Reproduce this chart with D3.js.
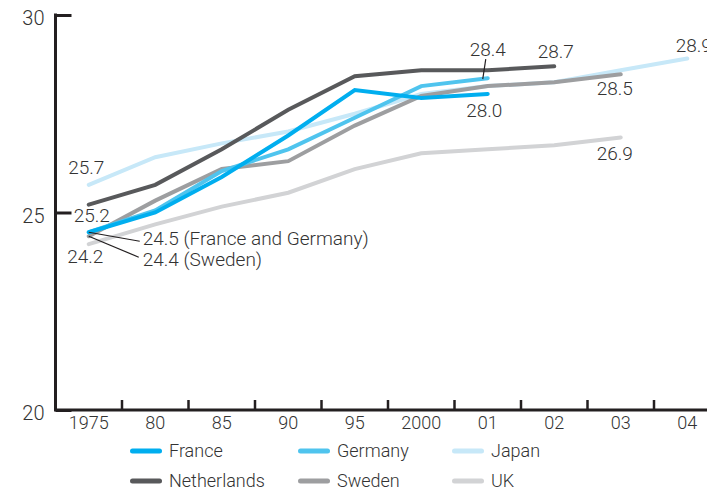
<!DOCTYPE html>
<html>
<head>
<meta charset="utf-8">
<script src="https://cdn.jsdelivr.net/npm/d3@7"></script>
<style>
  html, body { margin: 0; padding: 0; background: #fff; }
  svg { display: block; }
  text { font-family: Roboto, "Liberation Sans", sans-serif; font-weight: 300; fill: #333; }
</style>
</head>
<body>
<svg id="chart" width="707" height="488"></svg>
<script>
// ---- data ----
const years = ["1975", "80", "85", "90", "95", "2000", "01", "02", "03", "04"];
const yTicks = [20, 25, 30];
const seriesNames = ["France", "Germany", "Japan", "Netherlands", "Sweden", "UK"];
const france      = [24.5, 25.0, 25.9, 26.95, 28.1, 27.9, 28.0, null, null, null];
const germany     = [24.5, 25.05, 26.05, 26.6, 27.4, 28.2, 28.4, null, null, null];
const japan       = [25.7, 26.4, 26.75, 27.05, 27.5, 28.0, 28.2, 28.3, 28.6, 28.9];
const netherlands = [25.2, 25.7, 26.6, 27.6, 28.45, 28.6, 28.6, 28.7, null, null];
const sweden      = [24.4, 25.3, 26.1, 26.3, 27.2, 27.95, 28.2, 28.3, 28.5, null];
const uk          = [24.2, 24.7, 25.15, 25.5, 26.1, 26.5, 26.6, 26.7, 26.9, null];
const colors = {
  France: "#00aeef", Germany: "#4fc4ee", Japan: "#c7e8f8",
  Netherlands: "#58595b", Sweden: "#9d9ea0", UK: "#d2d3d5"
};
const values = { France: france, Germany: germany, Japan: japan,
  Netherlands: netherlands, Sweden: sweden, UK: uk };
// annotations: series, year index, text, offsets
const annotations = [
  { s: "Japan", i: 0, t: "25.7", dx: -2.5, dy: -11, anchor: "middle" },
  { s: "Netherlands", i: 0, t: "25.2", dx: 3, dy: 17.5, anchor: "middle" },
  { s: "UK", i: 0, t: "24.2", dx: -3.5, dy: 19, anchor: "middle" },
  { s: "France", i: 0, t: "24.5 (France and Germany)", dx: 54, dy: 13, anchor: "start", leader: [51, 9] },
  { s: "Sweden", i: 0, t: "24.4 (Sweden)", dx: 54, dy: 30, anchor: "start", leader: [50, 21] },
  { s: "Germany", i: 6, t: "28.4", dx: 0, dy: -22, anchor: "middle", leaderUp: true },
  { s: "Netherlands", i: 7, t: "28.7", dx: 1.5, dy: -8, anchor: "middle" },
  { s: "Japan", i: 9, t: "28.9", dx: -11.5, dy: -6, anchor: "start" },
  { s: "Sweden", i: 8, t: "28.5", dx: -6, dy: 21, anchor: "middle" },
  { s: "France", i: 6, t: "28.0", dx: -3.5, dy: 23, anchor: "middle" },
  { s: "UK", i: 8, t: "26.9", dx: -6, dy: 22.5, anchor: "middle" }
];

// ---- layout ----
const svg = d3.select("#chart");
const axisX0 = 55.5, step = 66.5;
const x = d3.scaleBand().domain(years).range([axisX0, axisX0 + step * years.length]).padding(0);
const y = d3.scaleLinear().domain([20, 30]).range([410, 15]);
const cx = i => x(years[i]) + x.bandwidth() / 2;

// lines
const line = d3.line()
  .defined(d => d.v != null)
  .x(d => cx(d.i))
  .y(d => y(d.v));
const drawOrder = ["UK", "Japan", "Sweden", "Netherlands", "Germany", "France"];
svg.append("g").selectAll("path")
  .data(drawOrder)
  .join("path")
  .attr("d", s => line(values[s].map((v, i) => ({ v, i }))))
  .attr("fill", "none")
  .attr("stroke", s => colors[s])
  .attr("stroke-width", 4)
  .attr("stroke-linecap", "round");

// y axis
const yAxis = svg.append("g")
  .attr("transform", `translate(${axisX0},0)`)
  .call(d3.axisLeft(y).tickValues(yTicks).tickSize(-16).tickPadding(11).tickFormat(d3.format("d")));
yAxis.select(".domain").attr("stroke", "#231f20").attr("stroke-width", 3)
  .attr("d", `M0,${y(30) - 1.5}V${y(20)}`);
yAxis.selectAll(".tick line").attr("stroke", "#231f20").attr("stroke-width", 3);
yAxis.selectAll(".tick text").attr("font-size", 20).attr("dy", "0.48em")
  .style("font-family", "Roboto, 'Liberation Sans', sans-serif").style("font-weight", 300).attr("fill", "#333");

// x axis
const xAxis = svg.append("g")
  .attr("transform", `translate(0,${y(20)})`)
  .call(d3.axisBottom(x).tickSize(0).tickPadding(6));
xAxis.select(".domain").attr("stroke", "#231f20").attr("stroke-width", 3)
  .attr("d", `M${axisX0 - 1.5},0H${x.range()[1]}`);
xAxis.selectAll(".tick text").attr("font-size", 18)
  .style("font-family", "Roboto, 'Liberation Sans', sans-serif").style("font-weight", 300).attr("fill", "#333");
svg.append("g").selectAll("line")
  .data(years.slice(1).concat(["__end"]))
  .join("line")
  .attr("x1", d => d === "__end" ? x.range()[1] : x(d))
  .attr("x2", d => d === "__end" ? x.range()[1] : x(d))
  .attr("y1", y(20))
  .attr("y2", y(20) - 10)
  .attr("stroke", "#231f20")
  .attr("stroke-width", 2.5);

// annotations
const ann = svg.append("g");
annotations.forEach(a => {
  const px = cx(a.i), py = y(values[a.s][a.i]);
  if (a.leader) {
    ann.append("line")
      .attr("x1", px).attr("y1", py)
      .attr("x2", px + a.leader[0]).attr("y2", py + a.leader[1])
      .attr("stroke", "#231f20").attr("stroke-width", 1.2);
  }
  if (a.leaderUp) {
    ann.append("line")
      .attr("x1", px - 5).attr("y1", py + 1)
      .attr("x2", px - 2).attr("y2", py + a.dy + 3)
      .attr("stroke", "#231f20").attr("stroke-width", 1.2);
  }
  ann.append("text")
    .attr("x", px + a.dx)
    .attr("y", py + a.dy)
    .attr("text-anchor", a.anchor)
    .attr("font-size", 19)
    .text(a.t);
});

// legend
const legendCols = [130, 298, 452];
const legendRows = [451, 481];
const lg = svg.append("g");
seriesNames.forEach((s, k) => {
  const lx = legendCols[k % 3], ly = legendRows[Math.floor(k / 3)];
  lg.append("line")
    .attr("x1", lx + 2.5).attr("x2", lx + 29.5)
    .attr("y1", ly).attr("y2", ly)
    .attr("stroke", colors[s]).attr("stroke-width", 5).attr("stroke-linecap", "round");
  lg.append("text")
    .attr("x", lx + 39).attr("y", ly)
    .attr("dy", "0.35em")
    .attr("font-size", 18)
    .text(s);
});
</script>
</body>
</html>
